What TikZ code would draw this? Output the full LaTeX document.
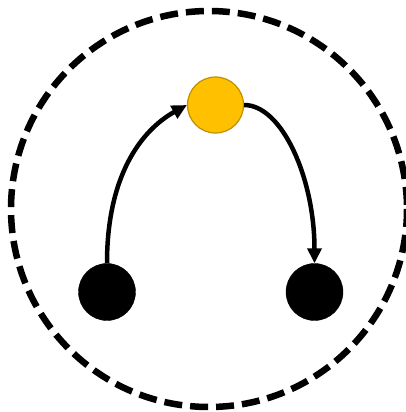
\documentclass[tikz,border=0pt]{standalone}
\usetikzlibrary{arrows.meta}
\definecolor{gold}{HTML}{FFC000}
\definecolor{golddark}{HTML}{BF9000}
\tikzset{
  blackdot/.style={circle,fill=black,draw=black,minimum size=57pt,inner sep=0pt},
  golddot/.style={circle,fill=gold,draw=golddark,line width=1.2pt,minimum size=56pt,inner sep=0pt},
  link/.style={line width=4.5pt,-{Triangle[length=15pt,width=14pt]}},
  ring/.style={line width=6.5pt,dash pattern=on 18pt off 8pt}
}
\begin{document}
\begin{tikzpicture}[x=1pt,y=-1pt]
\useasboundingbox (0,0) rectangle (406,412);
\draw[ring] (209,209) circle[radius=198];
\node[golddot] (y) at (215.5,105) {};
\node[blackdot] (a) at (107,292) {};
\node[blackdot] (b) at (314.5,292) {};
\draw[link] (a.north) .. controls +(0,-95) and +(-40,22) .. (y.west);
\draw[link] (y.east) .. controls +(38,0) and +(0,-85) .. (b.north);
\end{tikzpicture}
\end{document}
